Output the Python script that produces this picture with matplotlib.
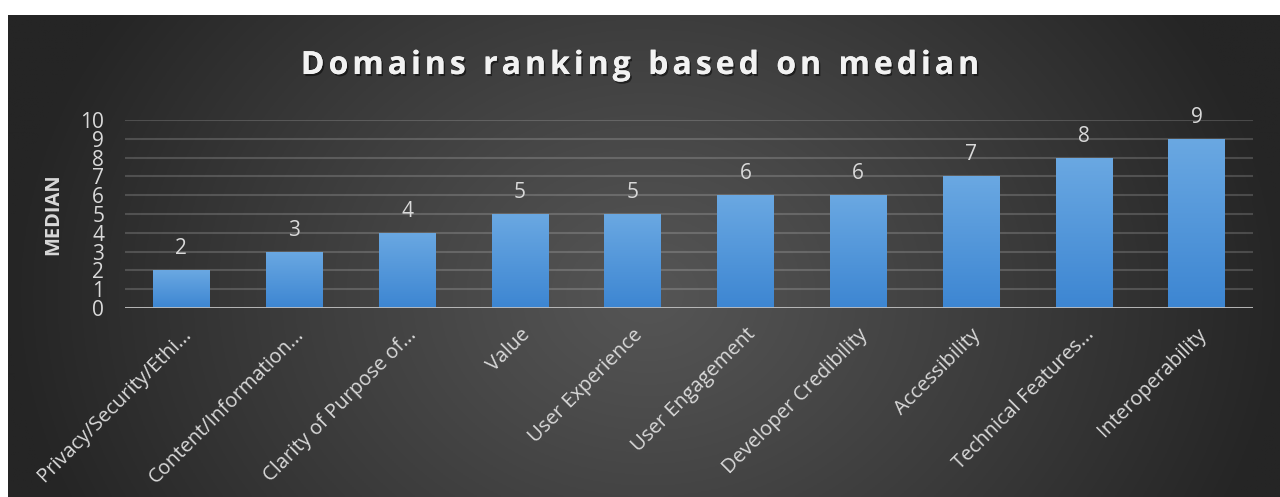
import numpy as np
import matplotlib
matplotlib.use('Agg')
import matplotlib.pyplot as plt
import matplotlib.patheffects as pe
from matplotlib.colors import LinearSegmentedColormap

domains = ['Privacy/Security/Ethi...', 'Content/Information...', 'Clarity of Purpose of...',
           'Value', 'User Experience', 'User Engagement', 'Developer Credibility',
           'Accessibility', 'Technical Features...', 'Interoperability']
medians = [2, 3, 4, 5, 5, 6, 6, 7, 8, 9]
yticks = list(range(0, 11))

plt.rcParams['font.family'] = ['Open Sans', 'DejaVu Sans']
txt = '#d9d9d9'

W, H = 1280, 497
fig = plt.figure(figsize=(W / 100, H / 100), dpi=100, facecolor='white')

# dark panel with a soft elliptical glow in the middle
bg = fig.add_axes([8 / W, 0, 1 - 8 / W, (H - 15) / H])
bg.set_axis_off()
gx, gy = np.meshgrid(np.linspace(0, 1272, 640), np.linspace(0, 482, 240))
r = np.sqrt(((gx - 640) / 640) ** 2 + ((gy - 280) / 520) ** 2)
r = np.clip(r, 0, 1) ** 1.1
c0, c1 = np.array([0x55, 0x55, 0x55]) / 255, np.array([0x25, 0x25, 0x25]) / 255
img = c0[None, None, :] * (1 - r[..., None]) + c1[None, None, :] * r[..., None]
bg.imshow(img, extent=[0, 1, 0, 1], aspect='auto', origin='upper')
bg.set_xlim(0, 1)
bg.set_ylim(0, 1)

ax = fig.add_axes([125 / W, (H - 308) / H, (1253 - 125) / W, 188 / H])
ax.patch.set_alpha(0)
x = np.arange(len(domains))
bars = ax.bar(x, medians, width=0.5, color='#4a90d9', zorder=3)

# vertical gradient inside each bar
blue = LinearSegmentedColormap.from_list('bl', ['#3d86d2', '#6aa8e2'])
grad = np.linspace(0, 1, 100).reshape(-1, 1)
for b in bars:
    x0, w, h = b.get_x(), b.get_width(), b.get_height()
    im = ax.imshow(grad, extent=[x0, x0 + w, 0, h], origin='lower', aspect='auto',
                   cmap=blue, zorder=4)
    im.set_clip_path(b)

for xi, v in zip(x, medians):
    ax.annotate(str(v), (xi, v), xytext=(0, 11.5), textcoords='offset points',
                ha='center', va='baseline', color=txt, fontsize=15, zorder=5,
                annotation_clip=False)

ax.set_xlim(-0.5, len(domains) - 0.5)
ax.set_ylim(0, 10)
ax.set_yticks(yticks)
ax.set_yticklabels([str(t) for t in yticks], color=txt, fontsize=15)
ax.yaxis.grid(True, color='white', alpha=0.17, lw=1.5, zorder=0)
ax.axhline(0, color='#bfbfbf', lw=2, zorder=6)
ax.set_xticks(x)
ax.set_xticklabels(domains, rotation=45, ha='right', rotation_mode='anchor',
                   color=txt, fontsize=14.5)
ax.tick_params(axis='both', length=0)
ax.tick_params(axis='y', pad=15)
ax.tick_params(axis='x', pad=12)
for s in ax.spines.values():
    s.set_visible(False)
ax.set_ylabel('MEDIAN', color=txt, fontsize=14.5, fontweight='bold', labelpad=12)

# spaced-out title with a light drop shadow
title = 'Domains ranking based on median'
tsize, spacing = 23, 4.0
fig.canvas.draw()
rend = fig.canvas.get_renderer()
widths = []
for ch in title:
    t = fig.text(0, 0, ch if ch != ' ' else 'n', fontsize=tsize, fontweight='bold')
    bb = t.get_window_extent(renderer=rend)
    widths.append(bb.width * (0.45 if ch == ' ' else 1.0))
    t.remove()
total = sum(widths) + spacing * (len(title) - 1)
cx = 640 - total / 2
for ch, w in zip(title, widths):
    if ch != ' ':
        fig.text(cx / W, (H - 74) / H, ch, fontsize=tsize, fontweight='bold',
                 color='#f2f2f2', ha='left', va='baseline',
                 path_effects=[pe.withSimplePatchShadow(offset=(1.2, -1.5),
                                                        shadow_rgbFace='black', alpha=0.5),
                               pe.Normal()])
    cx += w + spacing

fig.savefig('out.png', dpi=100, facecolor='white')
